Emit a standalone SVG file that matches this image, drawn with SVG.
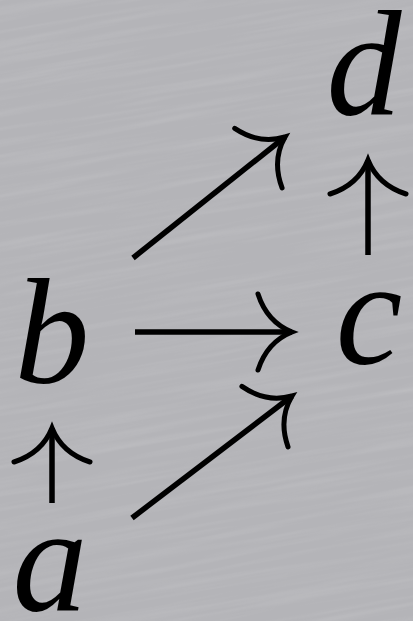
<svg xmlns="http://www.w3.org/2000/svg" width="413" height="621" viewBox="0 0 413 621">
  <defs>
    <filter id="brush" x="0" y="0" width="100%" height="100%">
      <feTurbulence type="fractalNoise" baseFrequency="0.006 0.15" numOctaves="3" seed="7" result="n"/>
      <feColorMatrix in="n" type="matrix" values="0 0 0 0 1  0 0 0 0 1  0 0 0 0 1  0.9 0 0 0 -0.38" result="streak"/>
      <feComposite in="streak" in2="SourceGraphic" operator="in"/>
    </filter>
    <marker id="head" viewBox="-45 -50 55 100" refX="0" refY="0" markerWidth="55" markerHeight="100" markerUnits="userSpaceOnUse" orient="auto" overflow="visible">
      <path d="M -34,-38 Q -25,-10 0,0 Q -25,10 -34,38" fill="none" stroke="#000" stroke-width="5" stroke-linecap="round"/>
    </marker>
  </defs>
  <style>
    .lbl { font-family: 'Liberation Serif', serif; font-style: italic; font-size: 150px; fill: #000; text-anchor: middle; }
    .edge { stroke: #000; stroke-width: 5.5; fill: none; marker-end: url(#head); }
  </style>
  <rect width="413" height="621" fill="#b4b4b8"/>
  <g transform="rotate(-10 206 310)">
    <rect x="-150" y="-150" width="713" height="921" fill="#fff" filter="url(#brush)" opacity="0.22"/>
  </g>
  <g id="connectors">
    <line class="edge" x1="52" y1="503" x2="52" y2="428"/>
    <line class="edge" x1="368" y1="255" x2="368" y2="160"/>
    <line class="edge" x1="135" y1="332" x2="292" y2="332"/>
    <line class="edge" x1="132" y1="518" x2="292" y2="396"/>
    <line class="edge" x1="133" y1="258" x2="285" y2="137"/>
  </g>
  <g id="node-a"><text class="lbl" x="50" y="610">a</text></g>
  <g id="node-b"><text class="lbl" x="52" y="383">b</text></g>
  <g id="node-c"><text class="lbl" x="369" y="364">c</text></g>
  <g id="node-d"><text class="lbl" x="364" y="114">d</text></g>
</svg>
